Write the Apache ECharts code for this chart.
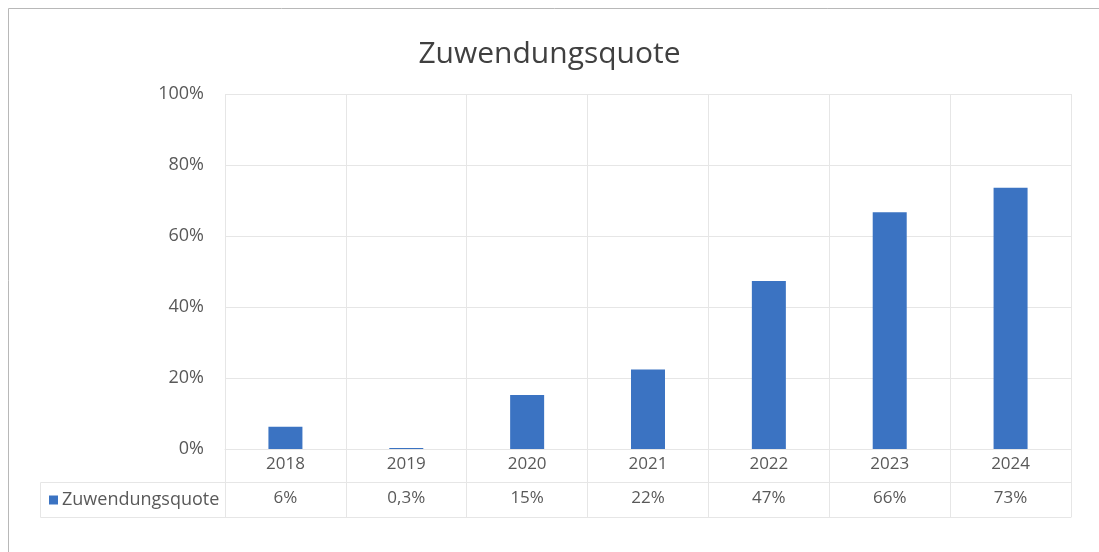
<!DOCTYPE html>
<html>
<head>
<meta charset="utf-8">
<script src="https://cdn.jsdelivr.net/npm/echarts@6/dist/echarts.min.js"></script>
<style>
html, body { margin: 0; padding: 0; background: #fff; }
#main { width: 1099px; height: 552px; }
</style>
</head>
<body>
<div id="main"></div>
<script>
// Daten
var years = ['2018', '2019', '2020', '2021', '2022', '2023', '2024'];
var quote = [0.063, 0.003, 0.152, 0.224, 0.473, 0.667, 0.736];
var tableLabels = ['6%', '0,3%', '15%', '22%', '47%', '66%', '73%'];
var seriesName = 'Zuwendungsquote';

var lineColor = '#e6e6e6';
var textColor = '#595959';
var font = 'Open Sans';

var myChart = echarts.init(document.getElementById('main'));

var option = {
	backgroundColor : '#fff',
	animation : false,
	title : {
		text : 'Zuwendungsquote',
		left : 'center',
		top : 34,
		textStyle : {
			color : '#404040',
			fontFamily : font,
			fontWeight : 'normal',
			fontSize : 30
		}
	},
	legend : {
		data : [seriesName],
		left : 44,
		top : 486,
		icon : 'rect',
		itemWidth : 9,
		itemHeight : 9,
		itemGap : 4,
		textStyle : {
			color : textColor,
			fontFamily : font,
			fontSize : 18,
			padding : [0, 0, 0, -1]
		}
	},
	grid : {
		left : 225,
		right : 28,
		top : 94,
		bottom : 103
	},
	xAxis : [{
		type : 'category',
		data : years,
		position : 'bottom',
		axisLine : { lineStyle : { color : lineColor } },
		axisTick : { show : true, length : 68, lineStyle : { color : lineColor } },
		axisLabel : { color : textColor, fontFamily : font, fontSize : 17, margin : 7 },
		splitLine : { show : true, lineStyle : { color : lineColor } }
	}, {
		// Datentabelle: Wertezeile
		type : 'category',
		data : years,
		position : 'bottom',
		offset : 33,
		axisLine : { show : true, lineStyle : { color : lineColor } },
		axisTick : { show : false },
		axisLabel : {
			color : textColor, fontFamily : font, fontSize : 17, margin : 8,
			formatter : function(v, i) { return tableLabels[i]; }
		},
		splitLine : { show : false }
	}, {
		type : 'category',
		data : years,
		position : 'bottom',
		offset : 68,
		axisLine : { show : true, lineStyle : { color : lineColor } },
		axisTick : { show : false },
		axisLabel : { show : false },
		splitLine : { show : false }
	}],
	yAxis : {
		type : 'value',
		min : 0,
		max : 1,
		interval : 0.2,
		axisLine : { show : false },
		axisTick : { show : false },
		axisLabel : {
			color : textColor, fontFamily : font, fontSize : 18, margin : 21,
			formatter : function(v) { return Math.round(v * 100) + '%'; }
		},
		splitLine : { lineStyle : { color : lineColor } }
	},
	graphic : [{
		type : 'rect',
		shape : { x : 8.5, y : 8.5, width : 1200, height : 700 },
		style : { fill : 'none', stroke : '#b8b8b8', lineWidth : 1 }
	}, {
		// Legendenzelle der Datentabelle
		type : 'polyline',
		shape : { points : [[225, 482.5], [40.5, 482.5], [40.5, 517.5], [225, 517.5]] },
		style : { fill : 'none', stroke : lineColor, lineWidth : 1 }
	}],
	series : [{
		name : seriesName,
		type : 'bar',
		data : quote,
		barWidth : 34,
		itemStyle : { color : '#3b73c2' }
	}]
};

myChart.setOption(option);
</script>
</body>
</html>
